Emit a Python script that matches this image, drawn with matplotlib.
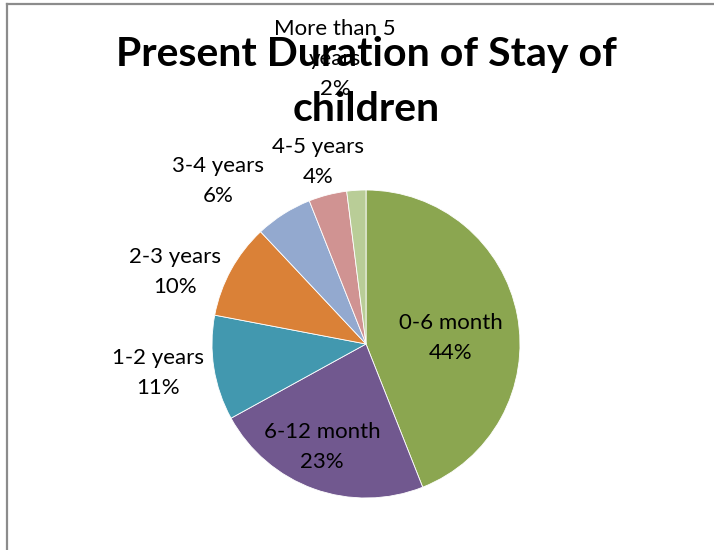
import matplotlib
matplotlib.use("Agg")
import matplotlib.pyplot as plt
from matplotlib.lines import Line2D

categories = ["0-6 month", "6-12 month", "1-2 years", "2-3 years",
              "3-4 years", "4-5 years", "More than 5\nyears"]
values = [44, 23, 11, 10, 6, 4, 2]
colors = ["#8BA650", "#71588F", "#4298AF", "#DA8137",
          "#93A9CF", "#D09392", "#B9CD97"]
title = "Present Duration of Stay of\nchildren"

# label positions (in pie-radius units, relative to centre)
label_pos = [(0.552, 0.039), (-0.286, -0.669), (-1.351, -0.188),
             (-1.240, 0.468), (-0.961, 1.058), (-0.312, 1.182),
             (-0.201, 1.851)]

W, H = 714, 550
fig = plt.figure(figsize=(W / 100, H / 100), dpi=100)
fig.patch.set_facecolor("white")

cx, cy, R = 366, 344, 154
ax = fig.add_axes([(cx - R) / W, (H - cy - R) / H, 2 * R / W, 2 * R / H])

ax.pie(values, colors=colors, startangle=90, counterclock=False,
       radius=1.0, wedgeprops=dict(edgecolor="white", linewidth=0.6))
ax.set_xlim(-1, 1)
ax.set_ylim(-1, 1)
ax.axis("off")

font = "Lato"
for cat, v, (x, y) in zip(categories, values, label_pos):
    ax.text(x, y, f"{cat}\n{v}%", ha="center", va="center",
            fontsize=16, family=font, linespacing=1.62, color="black",
            zorder=5, clip_on=False)

fig.text(cx / W, 1 - 82 / H, title, ha="center", va="center",
         fontsize=29.5, fontweight="bold", family=font, linespacing=1.6,
         color="black", zorder=10)

# chart frame
fig.add_artist(Line2D([7 / W, 1.0], [1 - 4 / H, 1 - 4 / H],
                      transform=fig.transFigure, color="#8C8C8C", lw=1.6))
fig.add_artist(Line2D([7 / W, 7 / W], [0, 1 - 4 / H],
                      transform=fig.transFigure, color="#8C8C8C", lw=1.6))

fig.savefig("out.png", dpi=100, facecolor="white")
